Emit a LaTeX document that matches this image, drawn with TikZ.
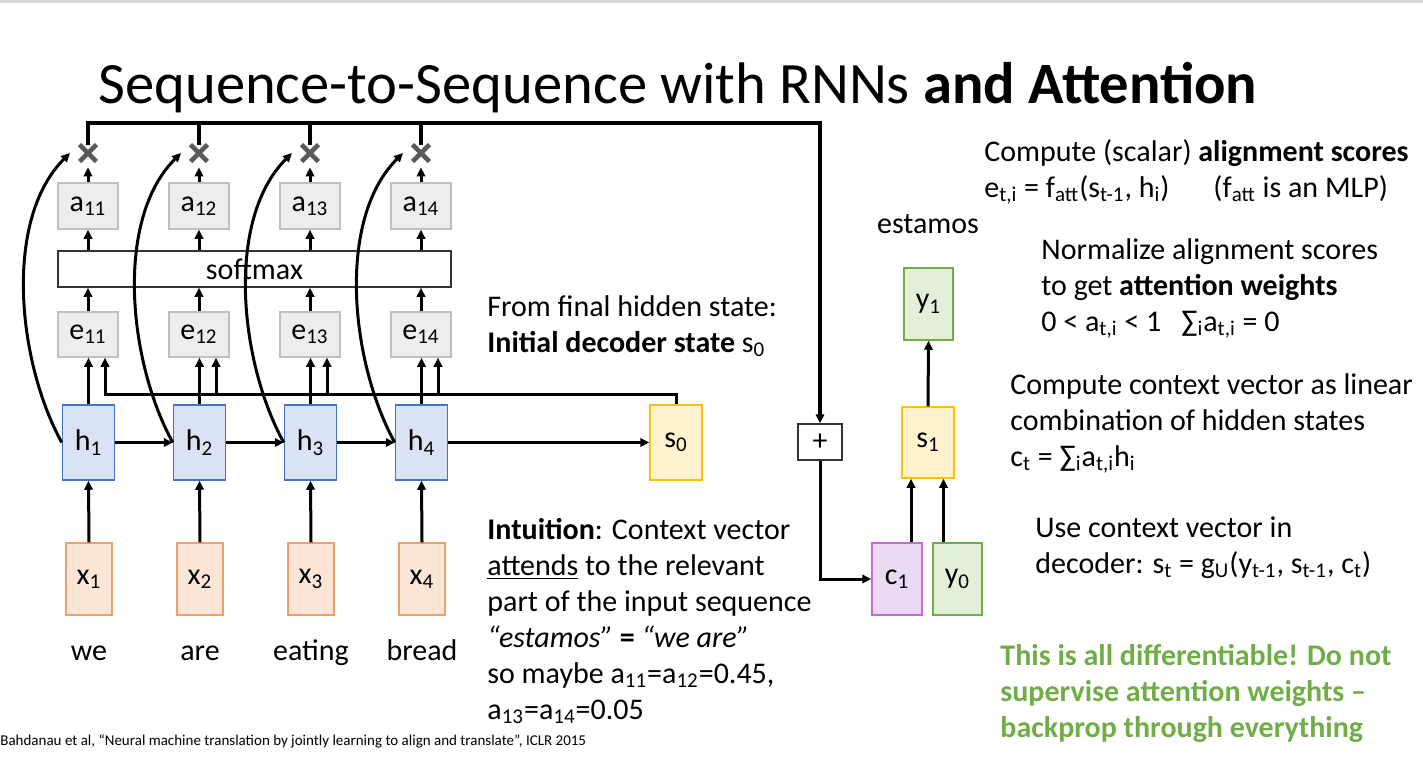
\documentclass[tikz,border=0pt]{standalone}
\usepackage{fontspec}
\setmainfont{Carlito}
\usetikzlibrary{arrows.meta,calc}
\definecolor{hfill}{HTML}{DAE3F3}\definecolor{hdraw}{HTML}{4472C4}
\definecolor{xfill}{HTML}{FBE5D6}\definecolor{xdraw}{HTML}{F19E68}
\definecolor{gfill}{HTML}{EDEDED}\definecolor{gdraw}{HTML}{BFBFBF}
\definecolor{sfill}{HTML}{FFF2CC}\definecolor{sdraw}{HTML}{FFC000}
\definecolor{yfill}{HTML}{E2F0D9}\definecolor{ydraw}{HTML}{70AD47}
\definecolor{cfill}{HTML}{EAD9F2}\definecolor{cdraw}{HTML}{CC66DD}
\definecolor{crossc}{HTML}{595959}
\definecolor{greentxt}{HTML}{70AD47}
\definecolor{topbar}{HTML}{D9D9D9}
\newcommand\bodysize{\fontsize{15}{18}\selectfont}
\newcommand\titlesize{\fontsize{29.3}{34}\selectfont}
\newcommand\citesize{\fontsize{7.5}{9}\selectfont}
\newcommand\sbs[1]{\textsubscript{#1}}
\begin{document}
\begin{tikzpicture}[x=0.5pt,y=-0.5pt,
  box/.style={draw, line width=0.75pt, inner sep=0pt, font=\bodysize},
  hbox/.style={box, fill=hfill, draw=hdraw, minimum width=26pt, minimum height=37.5pt},
  xbox/.style={box, fill=xfill, draw=xdraw, minimum width=23pt, minimum height=36pt},
  gbox/.style={box, fill=gfill, draw=gdraw, minimum width=30pt, minimum height=22.5pt},
  sbox/.style={box, fill=sfill, draw=sdraw, minimum width=26pt, minimum height=36pt},
  ybox/.style={box, fill=yfill, draw=ydraw, minimum width=24.5pt, minimum height=36pt},
  cbox/.style={box, fill=cfill, draw=cdraw, minimum width=25pt, minimum height=36pt},
  wbox/.style={box, fill=white, draw=black!80},
  crossn/.style={inner sep=0pt, minimum size=8pt},
  crossline/.style={draw=crossc, line width=2.3pt},
  arr/.style={line width=1.5pt, -{Triangle[length=4.5pt,width=4.2pt]}},
  txt/.style={anchor=base west, inner sep=0pt, align=left, font=\bodysize},
  word/.style={anchor=base, inner sep=0pt, font=\bodysize}]
\useasboundingbox (0,0) rectangle (1423,757);
\fill[topbar] (0,0) rectangle (1423,3);
\node[anchor=base west, inner sep=0pt, font=\titlesize] (title) at (98,103)
  {Sequence-to-Sequence with RNNs \textbf{and Attention}};

% encoder columns
\foreach \i/\cx/\w in {1/88/we,2/199/are,3/310/eating,4/421/bread} {
  \node[xbox] (x\i) at (\cx+1,579) {x\sbs{\i}};
  \node[hbox] (h\i) at (\cx+0.5,442.5) {h\sbs{\i}};
  \node[gbox] (e\i) at (\cx,334.5) {e\sbs{1\i}};
  \node[gbox, minimum height=23pt] (a\i) at (\cx,206) {a\sbs{1\i}};
  \node[crossn] (m\i) at (\cx,153) {};
  \node[word] (w\i) at (\cx+1,660) {\w};
  \coordinate (t\i) at (\cx-18,153);
  \coordinate (b\i) at (\cx+17,394);
}
\node[wbox, minimum width=196.5pt, minimum height=18pt] (soft) at (254.5,269) {softmax};
\node[sbox, minimum height=37.5pt] (s0) at (676,442.5) {s\sbs{0}};

% decoder
\node[wbox, minimum width=22pt, minimum height=18pt] (plus) at (820,442) {+};
\node[cbox] (c1) at (897,579) {c\sbs{1}};
\node[ybox] (y0) at (957.5,579) {y\sbs{0}};
\node[sbox, minimum height=35.5pt] (s1) at (928,442.5) {s\sbs{1}};
\node[ybox] (y1) at (928.5,304) {y\sbs{1}};
\node[word] (est) at (928,233) {estamos};

% crosses
\foreach \i in {1,...,4} {
  \draw[crossline] (m\i.north west) -- (m\i.south east) (m\i.north east) -- (m\i.south west);
}

% encoder arrows
\foreach \i in {1,...,4} {
  \draw[arr] (x\i.north) -- (h\i.south);
  \draw[arr] (h\i.north) -- (h\i.north |- e\i.south);
  \draw[arr] (e\i.north) -- (e\i.north |- soft.south);
  \draw[arr] (a\i.south |- soft.north) -- (a\i.south);
  \draw[arr, shorten >=3pt] (a\i.north) -- (m\i.south);
}
\draw[arr] (h1.east) -- (h2.west);
\draw[arr] (h2.east) -- (h3.west);
\draw[arr] (h3.east) -- (h4.west);
\draw[arr] (h4.east) -- (s0.west);

% s0 feed line
\draw[arr] (s0.north) |- (b1) -- (b1 |- e1.south);
\foreach \i in {2,3,4} {
  \draw[arr] (b\i) -- (b\i |- e\i.south);
}

% context path
\coordinate (tp) at (820,123);
\draw[arr, line width=1.6pt] (m1.north) |- (tp) -- (plus.north);
\foreach \i in {2,3,4} {
  \draw[line width=1.6pt] (m\i.north) -- (m\i.north |- tp);
}
\draw[arr] (plus.south) |- (c1.west);
\draw[arr] ([xshift=7pt]c1.north) -- ([xshift=7pt]c1.north |- s1.south);
\draw[arr] ([xshift=-7pt]y0.north) -- ([xshift=-7pt]y0.north |- s1.south);
\draw[arr] (s1.north) -- (y1.south);

% curved arrows h_i -> cross_i
\foreach \i in {1,...,4} {
  \draw[arr] (h\i.west) .. controls +(-44,-80) and +(-67,67) .. (t\i);
}

% texts (anchor = baseline of the last line)
\node[txt] (tA) at (984,197) {Compute (scalar) \textbf{alignment scores}\\
  e\sbs{t,i} = f\sbs{att}(s\sbs{t-1}, h\sbs{i})\hspace{22pt}(f\sbs{att} is an MLP)};
\node[txt] (tB) at (1041,331) {Normalize alignment scores\\
  to get \textbf{attention weights}\\
  0 < a\sbs{t,i} < 1\hspace{10pt}∑\sbs{i}a\sbs{t,i} = 0};
\node[txt] (tC) at (1010,466) {Compute context vector as linear\\
  combination of hidden states\\
  c\sbs{t} = ∑\sbs{i}a\sbs{t,i}h\sbs{i}};
\node[txt] (tD) at (1035,573) {Use context vector in\\
  decoder: s\sbs{t} = g\sbs{U}(y\sbs{t-1}, s\sbs{t-1}, c\sbs{t})};
\node[txt, text=greentxt, font=\bodysize\bfseries] (tE) at (1000,737) {This is all differentiable! Do not\\
  supervise attention weights –\\
  backprop through everything};
\node[txt] (tF) at (487,352) {From final hidden state:\\
  \textbf{Initial decoder state} s\sbs{0}};
\node[txt] (tG) at (487,719) {\textbf{Intuition}: Context vector\\
  \underline{attends} to the relevant\\
  part of the input sequence\\
  \textit{“estamos”} \textbf{=} \textit{“we are”}\\
  so maybe a\sbs{11}=a\sbs{12}=0.45,\\
  a\sbs{13}=a\sbs{14}=0.05};
\node[anchor=base west, inner sep=0pt, font=\citesize] (cite) at (0,745)
  {Bahdanau et al, “Neural machine translation by jointly learning to align and translate”, ICLR 2015};
\end{tikzpicture}
\end{document}
